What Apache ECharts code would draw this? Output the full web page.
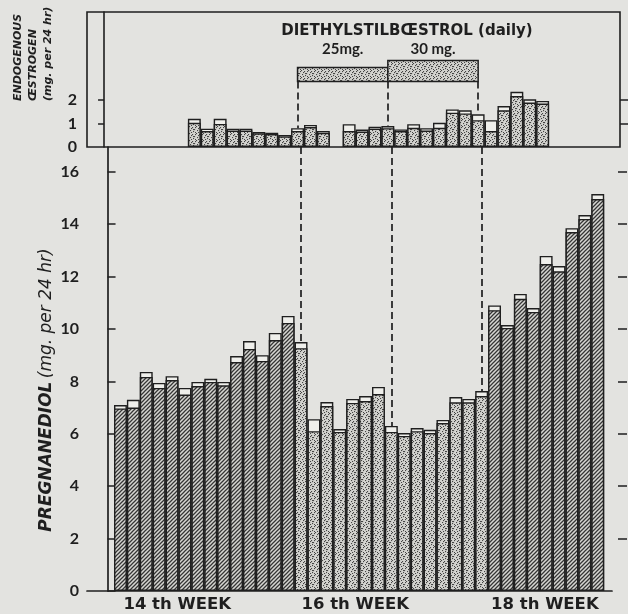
<!DOCTYPE html>
<html>
<head>
<meta charset="utf-8">
<script src="https://cdn.jsdelivr.net/npm/echarts@6.0.0/dist/echarts.min.js"></script>
<style>
  html, body { margin: 0; padding: 0; background: #e3e3e0; }
  #chart { width: 628px; height: 614px; }
</style>
</head>
<body>
<div id="chart"></div>
<script>
// Daily collections, numbered from the first day of the 14th week
const days = [1, 2, 3, 4, 5, 6, 7, 8, 9, 10, 11, 12, 13, 14, 15, 16, 17, 18, 19,
  20, 21, 22, 23, 24, 25, 26, 27, 28, 29, 30, 31, 32, 33, 34, 35, 36, 37, 38];

// Pregnanediol, mg per 24 hr: lower reading (filled part) and upper reading (open cap)
const pregnanediolLow = [6.97, 7.0, 8.17, 7.75, 8.05, 7.5, 7.82, 7.98, 7.85, 8.74,
  9.24, 8.78, 9.58, 10.23, 9.27, 6.1, 7.06, 6.07, 7.18, 7.25, 7.52, 6.07, 5.92,
  6.1, 6.03, 6.41, 7.2, 7.2, 7.44, 10.72, 10.04, 11.15, 10.65, 12.48, 12.2, 13.7,
  14.2, 14.96];
const pregnanediolHigh = [7.1, 7.3, 8.36, 7.94, 8.2, 7.75, 7.98, 8.1, 7.98, 8.97,
  9.54, 9.0, 9.85, 10.5, 9.5, 6.56, 7.21, 6.18, 7.33, 7.44, 7.79, 6.3, 6.03,
  6.22, 6.15, 6.53, 7.4, 7.33, 7.63, 10.9, 10.15, 11.34, 10.8, 12.79, 12.4, 13.85,
  14.35, 15.15];

// Endogenous oestrogen, mg per 24 hr (null: no assay that day)
const oestrogenLow = [null, null, null, null, null, null, 1.03, 0.68, 0.98, 0.7,
  0.7, 0.58, 0.55, 0.45, 0.68, 0.85, 0.6, null, 0.68, 0.66, 0.78, 0.8, 0.68, 0.82,
  0.7, 0.82, 1.46, 1.43, 1.14, 0.68, 1.56, 2.17, 1.89, 1.85, null, null, null, null];
const oestrogenHigh = [null, null, null, null, null, null, 1.2, 0.78, 1.2, 0.78,
  0.78, 0.64, 0.61, 0.51, 0.8, 0.94, 0.68, null, 0.97, 0.74, 0.86, 0.89, 0.75, 0.97,
  0.8, 1.03, 1.6, 1.56, 1.39, 1.14, 1.74, 2.35, 2.03, 1.96, null, null, null, null];

// Diethylstilboestrol course: dose changes fall on these days
const doseDays = [15, 22, 29];
const doseNames = ['25mg.', '30 mg.'];
const doseBoxTop = [3.38, 3.68];
const doseBoxBase = 2.79;

// Axis labelling
const pregTicks = [0, 2, 4, 6, 8, 10, 12, 14, 16];
const oesTicks = [0, 1, 2];
const weekNames = ['14 th WEEK', '16 th WEEK', '18 th WEEK'];
const weekCentres = [5.4, 19.2, 33.9];

// ---- layout ----
const INK = '#1f1f1f';
const PX_PER_DAY = 12.9;
const MAIN = { left: 87, top: 147, width: 525, height: 444 };
const TOP = { left: 87, top: 12, width: 533, height: 135 };
const mainMinX = 1 - (120.45 - MAIN.left) / PX_PER_DAY;
const topMinX = mainMinX + 3.5 / PX_PER_DAY;
const FONT = 'Lato, "DejaVu Sans", sans-serif';
const WIDE = '"DejaVu Sans", sans-serif';

// Fill textures
function hatch() {
  const c = document.createElement('canvas');
  c.width = c.height = 4;
  const g = c.getContext('2d');
  g.fillStyle = '#d6d6d2';
  g.fillRect(0, 0, 4, 4);
  g.strokeStyle = '#353535';
  g.lineWidth = 1.25;
  g.beginPath();
  g.moveTo(-1, 5); g.lineTo(5, -1);
  g.moveTo(-1, 1); g.lineTo(1, -1);
  g.moveTo(3, 5); g.lineTo(5, 3);
  g.stroke();
  return c;
}
function stipple() {
  const c = document.createElement('canvas');
  c.width = c.height = 7;
  const g = c.getContext('2d');
  g.fillStyle = '#d3d3cf';
  g.fillRect(0, 0, 7, 7);
  g.fillStyle = '#444';
  const pts = [[0, 0], [3, 1], [5, 3], [1, 4], [4, 5], [6, 6], [2, 2], [6, 1], [2, 6], [4, 3]];
  pts.forEach(p => g.fillRect(p[0], p[1], 1.1, 1.1));
  return c;
}
const HATCH = { image: hatch(), repeat: 'repeat' };
const DOTS = { image: stipple(), repeat: 'repeat' };
const CAP = '#efefeb';
const EDGE = { borderColor: INK, borderWidth: 1.4 };

const treated = d => d >= doseDays[0] && d <= doseDays[doseDays.length - 1];
const at = (arr, d) => arr[days.indexOf(d)];

const labelText = { color: INK, fontFamily: FONT, fontWeight: 'bold', fontSize: 16 };

const option = {
  backgroundColor: '#e3e3e0',
  animation: false,
  grid: [
    Object.assign({ show: true, borderColor: INK, borderWidth: 1.6, backgroundColor: 'transparent' }, TOP),
    Object.assign({}, MAIN)
  ],
  xAxis: [
    {
      type: 'value', gridIndex: 0, min: topMinX, max: topMinX + TOP.width / PX_PER_DAY,
      axisLine: { show: false }, axisTick: { show: false }, axisLabel: { show: false },
      splitLine: { show: false }
    },
    {
      type: 'value', gridIndex: 1, min: mainMinX, max: mainMinX + MAIN.width / PX_PER_DAY,
      axisLine: { show: true, lineStyle: { color: INK, width: 1.7 } },
      axisTick: { show: false }, splitLine: { show: false },
      axisLabel: {
        customValues: weekCentres, margin: 5,
        color: INK, fontFamily: WIDE, fontWeight: 'bold', fontSize: 16.5,
        formatter: v => weekNames[weekCentres.indexOf(v)] || ''
      }
    }
  ],
  yAxis: [
    {
      type: 'value', gridIndex: 0, min: 0, max: TOP.height / 23.5,
      axisLine: { show: true, lineStyle: { color: INK, width: 1.6 } },
      axisTick: { show: true, inside: false, length: 6, customValues: [1, 2], lineStyle: { color: INK, width: 1.5 } },
      axisLabel: Object.assign({ customValues: oesTicks, margin: 10 }, labelText),
      splitLine: { show: false }
    },
    {
      type: 'value', gridIndex: 1, min: 0, max: MAIN.height / 26.2,
      axisLine: { show: true, lineStyle: { color: INK, width: 1.7 } },
      axisTick: { show: true, inside: true, length: 8, customValues: pregTicks, lineStyle: { color: INK, width: 1.5 } },
      axisLabel: Object.assign({ customValues: pregTicks, margin: 8 }, labelText),
      splitLine: { show: false }
    },
    {
      type: 'value', gridIndex: 1, position: 'right', offset: 6, min: 0, max: MAIN.height / 26.2,
      axisLine: { show: false },
      axisTick: { show: true, inside: false, length: 9, customValues: pregTicks.slice(1), lineStyle: { color: INK, width: 1.5 } },
      axisLabel: { show: false }, splitLine: { show: false }
    },
    {
      type: 'value', gridIndex: 0, position: 'right', min: 0, max: TOP.height / 23.5,
      axisLine: { show: false },
      axisTick: { show: true, inside: false, length: 8, customValues: [1, 2], lineStyle: { color: INK, width: 1.5 } },
      axisLabel: { show: false }, splitLine: { show: false }
    }
  ],
  series: [
    // Oestrogen: open caps, then the stippled part drawn over them
    {
      type: 'bar', xAxisIndex: 0, yAxisIndex: 0, barWidth: PX_PER_DAY, z: 3,
      data: days.map((d, i) => [d, oestrogenHigh[i]]),
      itemStyle: Object.assign({ color: CAP }, EDGE),
      markArea: {
        z: 2, silent: true,
        itemStyle: Object.assign({ color: DOTS }, EDGE, { borderWidth: 1.5 }),
        label: Object.assign({ show: true, position: 'top' }, labelText, { fontSize: 15 }),
        data: doseNames.map((name, k) => [
          { coord: [doseDays[k], doseBoxBase], name: name, label: { distance: k === 0 ? 10 : 3 } },
          { coord: [doseDays[k + 1], doseBoxTop[k]] }
        ])
      },
      markLine: {
        silent: true, symbol: 'none', z: 1,
        lineStyle: { color: INK, width: 1.7, type: [7, 4] },
        label: { show: false },
        data: doseDays.map(d => [
          { coord: [d, doseBoxBase] },
          { coord: [d, at(oestrogenHigh, d) || 0] }
        ])
      }
    },
    {
      type: 'bar', xAxisIndex: 0, yAxisIndex: 0, barWidth: PX_PER_DAY, barGap: '-100%', z: 4,
      data: days.map((d, i) => [d, oestrogenLow[i]]),
      itemStyle: Object.assign({ color: DOTS }, EDGE)
    },
    // Pregnanediol
    {
      type: 'bar', xAxisIndex: 1, yAxisIndex: 1, barWidth: PX_PER_DAY, z: 3,
      data: days.map((d, i) => [d, pregnanediolHigh[i]]),
      itemStyle: Object.assign({ color: CAP }, EDGE),
      markLine: {
        silent: true, symbol: 'none', z: 1,
        lineStyle: { color: INK, width: 1.7, type: [7, 4] },
        label: { show: false },
        data: doseDays.map(d => [
          { coord: [d, MAIN.height / 26.2] },
          { coord: [d, at(pregnanediolHigh, d)] }
        ])
      }
    },
    {
      type: 'bar', xAxisIndex: 1, yAxisIndex: 1, barWidth: PX_PER_DAY, barGap: '-100%', z: 4,
      data: days.map((d, i) => ({
        value: [d, pregnanediolLow[i]],
        itemStyle: { color: treated(d) ? DOTS : HATCH }
      })),
      itemStyle: Object.assign({}, EDGE)
    }
  ],
  graphic: [
    {
      type: 'text', x: 407, y: 31,
      style: {
        text: 'DIETHYLSTILBŒSTROL (daily)', fill: INK, align: 'center', verticalAlign: 'middle',
        font: 'bold 15px ' + WIDE
      }
    },
    {
      type: 'text', x: 47, y: 390, rotation: Math.PI / 2,
      style: {
        text: '{a|PREGNANEDIOL} {b|(mg. per 24 hr)}', align: 'center', verticalAlign: 'middle',
        rich: {
          a: { fontFamily: WIDE, fontSize: 17, fontStyle: 'italic', fontWeight: 'bold', fill: INK },
          b: { fontFamily: WIDE, fontSize: 17, fontStyle: 'italic', fill: INK }
        }
      }
    },
    {
      type: 'text', x: 33, y: 101, rotation: Math.PI / 2,
      style: {
        text: 'ENDOGENOUS\nŒSTROGEN\n(mg. per 24 hr)', align: 'left', verticalAlign: 'middle',
        fill: INK, font: 'italic bold 11px ' + WIDE, lineHeight: 15
      }
    }
  ]
};

echarts.init(document.getElementById('chart')).setOption(option);
</script>
</body>
</html>
